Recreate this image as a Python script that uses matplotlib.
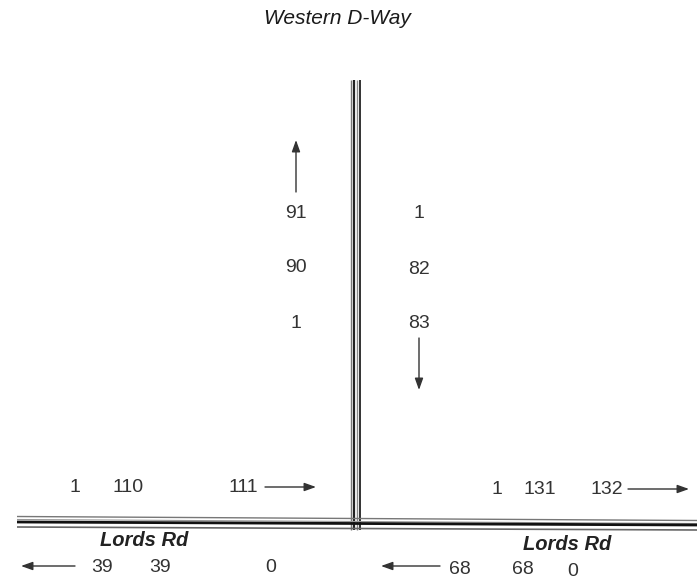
import matplotlib.pyplot as plt

# turning counts
north_counts = ["91", "90", "1"]      # left of the D-Way, going north
south_counts = ["1", "82", "83"]      # right of the D-Way, going south
west_top = ["1", "110", "111"]        # above Lords Rd, west side, going east
east_top = ["1", "131", "132"]        # above Lords Rd, east side, going east
west_bottom = ["39", "39", "0"]       # below Lords Rd, west side, going west
east_bottom = ["68", "68", "0"]       # below Lords Rd, east side, going west
road_names = ["Western D-Way", "Lords Rd", "Lords Rd"]

# pixel positions of the labels
north_xy = [(296, 213), (296, 268), (296, 324)]
south_xy = [(419, 213), (419, 270), (419, 324)]
west_top_xy = [(75, 488), (128, 488), (243, 488)]
east_top_xy = [(497, 490), (540, 490), (607, 490)]
west_bottom_xy = [(102, 567), (160, 567), (271, 568)]
east_bottom_xy = [(460, 570), (523, 570), (573, 571)]

txt_col = "#333333"

fig = plt.figure(figsize=(6.97, 5.82), dpi=100)
ax = fig.add_axes([0, 0, 1, 1])
ax.set_xlim(0, 697)
ax.set_ylim(582, 0)
ax.axis("off")

# vertical road (Western D-Way)
for x, c, w in [(350.5, "#777777", 1.0), (353.5, "#222222", 1.6), (356.5, "#888888", 1.0), (359.5, "#222222", 1.3)]:
    ax.plot([x, x], [80, 530], color=c, lw=w, solid_capstyle="butt")

# horizontal road (Lords Rd), slightly tilted like the scan
for y0, y1, c, w in [(516.5, 520.5, "#777777", 1.0), (519.5, 523.5, "#999999", 0.8),
                     (522, 525, "#111111", 2.0), (527, 530, "#666666", 1.2)]:
    ax.plot([17, 697], [y0, y1], color=c, lw=w, solid_capstyle="butt")

fs = 14
for labels, pos in [(north_counts, north_xy), (south_counts, south_xy), (west_top, west_top_xy),
                    (east_top, east_top_xy), (west_bottom, west_bottom_xy), (east_bottom, east_bottom_xy)]:
    for lab, (x, y) in zip(labels, pos):
        ax.text(x, y, lab, ha="center", va="center", fontsize=fs, color=txt_col, family="Liberation Sans")

# road names
ax.text(337, 19, road_names[0], ha="center", va="center", fontsize=15, style="italic",
        color="#1a1a1a", family="Liberation Sans")
ax.text(144, 541, road_names[1], ha="center", va="center", fontsize=14.5, style="italic",
        fontweight="bold", color="#222222", family="Liberation Sans")
ax.text(567, 545, road_names[2], ha="center", va="center", fontsize=14.5, style="italic",
        fontweight="bold", color="#222222", family="Liberation Sans")

# direction arrows
arrow = dict(arrowstyle="-|>,head_length=0.7,head_width=0.25", color="#333333", lw=1.0, shrinkA=0, shrinkB=0)
for start, end in [((296, 192), (296, 140)), ((419, 338), (419, 390)), ((265, 487), (316, 487)),
                   ((628, 489), (689, 489)), ((75, 566), (21, 566)), ((440, 566), (381, 566))]:
    ax.annotate("", xy=end, xytext=start, arrowprops=arrow)

fig.savefig("out.png", dpi=100)
